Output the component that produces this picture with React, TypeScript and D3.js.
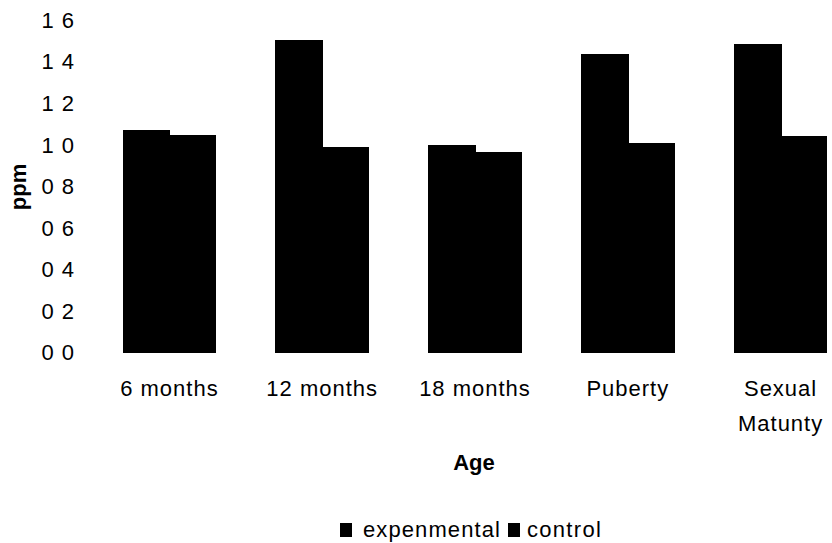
import React from "react";
import * as d3 from "d3";

// Trace element concentration (ppm) by age group
const categories: string[][] = [
  ["6 months"],
  ["12 months"],
  ["18 months"],
  ["Puberty"],
  ["Sexual", "Matunty"],
];
const experimental: number[] = [1.07, 1.505, 1.0, 1.435, 1.485];
const control: number[] = [1.045, 0.99, 0.965, 1.01, 1.04];
const tickValues: number[] = [0, 0.2, 0.4, 0.6, 0.8, 1.0, 1.2, 1.4, 1.6];
const tickLabels: string[] = ["0 0", "0 2", "0 4", "0 6", "0 8", "1 0", "1 2", "1 4", "1 6"];
const seriesNames: string[] = ["expenmental", "control"];

const W = 832;
const H = 543;
const FONT = "'Liberation Sans', Arial, Helvetica, sans-serif";

export default function App() {
  const y = d3.scaleLinear().domain([0, 1.6]).range([352.5, 20]);
  const keys = categories.map((c) => c.join(" "));
  const x = d3
    .scaleBand<string>()
    .domain(keys)
    .range([93, 857])
    .paddingInner(0.388)
    .paddingOuter(0.194);
  const xs = d3
    .scaleBand<string>()
    .domain(seriesNames)
    .range([0, x.bandwidth()]);

  const series = [experimental, control];

  return (
    <svg
      width={W}
      height={H}
      style={{ position: "absolute", left: 0, top: 0, background: "#fff" }}
      fontFamily={FONT}
    >
      {/* y tick labels */}
      {tickValues.map((v, i) => (
        <text
          key={v}
          x={75}
          y={y(v)}
          dy="0.36em"
          textAnchor="end"
          fontSize={22}
          letterSpacing={1}
          fill="#000"
        >
          {tickLabels[i]}
        </text>
      ))}

      {/* y axis title */}
      <text
        transform={`translate(${26},${187}) rotate(-90)`}
        textAnchor="middle"
        fontSize={22}
        fontWeight="bold"
        fill="#000"
      >
        ppm
      </text>

      {/* bars */}
      <g shapeRendering="crispEdges">
        {keys.map((k, ci) =>
          series.map((vals, si) => (
            <rect
              key={`${k}-${si}`}
              x={(x(k) as number) + (xs(seriesNames[si]) as number)}
              y={y(vals[ci])}
              width={xs.bandwidth() + (si === 0 ? 1 : 0)}
              height={y(0) - y(vals[ci])}
              fill="#000"
            />
          ))
        )}
      </g>

      {/* category labels */}
      {categories.map((lines, ci) => {
        const cx = (x(keys[ci]) as number) + x.bandwidth() / 2;
        return (
          <text
            key={keys[ci]}
            x={cx}
            y={396}
            textAnchor="middle"
            fontSize={22}
            letterSpacing={1}
            fill="#000"
          >
            {lines.map((ln, li) => (
              <tspan key={ln} x={cx} dy={li === 0 ? 0 : 35}>
                {ln}
              </tspan>
            ))}
          </text>
        );
      })}

      {/* x axis title */}
      <text
        x={474}
        y={470}
        textAnchor="middle"
        fontSize={22}
        fontWeight="bold"
        fill="#000"
      >
        Age
      </text>

      {/* legend */}
      <g>
        <rect x={340} y={523} width={12} height={14} fill="#000" />
        <text x={363} y={537} fontSize={22} letterSpacing={1.1} fill="#000">
          {seriesNames[0]}
        </text>
        <rect x={508} y={523} width={12} height={14} fill="#000" />
        <text x={527} y={537} fontSize={22} letterSpacing={1.3} fill="#000">
          {seriesNames[1]}
        </text>
      </g>
    </svg>
  );
}
